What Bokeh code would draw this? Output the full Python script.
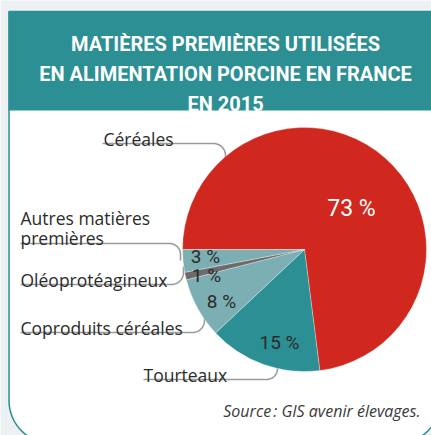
import numpy as np
from bokeh.plotting import figure
from bokeh.models import Range1d, ColumnDataSource
from bokeh.core.properties import value
from bokeh.embed import file_html
from bokeh.resources import INLINE

# ---------------- data ----------------
categories = ["Céréales", "Tourteaux", "Coproduits céréales",
              "Oléoprotéagineux", "Autres matières premières"]
shares = [73, 15, 8, 1, 3]
slice_colors = ["#d0281f", "#2b8f93", "#7bafb3", "#6e696a", "#7bafb3"]
title_lines = ["MATIÈRES PREMIÈRES UTILISÉES",
               "EN ALIMENTATION PORCINE EN FRANCE",
               "EN 2015"]
source_text = "Source\u202f: GIS avenir élevages."

# ---------------- layout (pixels, y measured from top) ----------------
W, H = 431, 435
TEAL = "#2b8f93"
BG = "#edf1f4"
TXT = "#2b2b2b"
LEAD = "#9b9b9b"
PIE_CX, PIE_CY, PIE_R = 304, 249, 122

def Y(yp):
    return H - np.asarray(yp, dtype=float)

p = figure(width=W, height=H, x_range=Range1d(0, W), y_range=Range1d(0, H),
           x_axis_type=None, y_axis_type=None, toolbar_location=None,
           output_backend="svg", min_border=0,
           background_fill_color=BG, border_fill_color=BG,
           outline_line_color=None)
p.grid.visible = False

def arc_pts(cx, cy, r, a0, a1, n=24):
    a = np.radians(np.linspace(a0, a1, n))
    return cx + r * np.cos(a), cy + r * np.sin(a)

# panel
L, Rt, T, B, rad = 8.5, 440.0, 11.0, 443.0, 43.0
xs, ys = [L], [T]
ax, ay = arc_pts(L + rad, B - rad, rad, 180, 90)
xs += list(ax); ys += list(ay)
ax, ay = arc_pts(Rt - rad, B - rad, rad, 90, 0)
xs += list(ax); ys += list(ay)
xs += [Rt]; ys += [T]
p.patch(xs, list(Y(ys)), fill_color="white", line_color=TEAL, line_width=1.5)

# header band
p.quad(left=[8], right=[440], top=list(Y([11])), bottom=list(Y([110])),
       fill_color=TEAL, line_color=None)

# leader lines: (x_start, y_line, x_corner, radius, direction, y_end)
leaders = [
    (102, 143, 213, 12, +1, 162),
    (20, 243, 169, 11, +1, 260),
    (20, 284, 171, 12, -1, 266),
    (20, 332, 192, 12, -1, 314),
    (143, 379, 266, 11, -1, 360),
]
lx, ly = [], []
for x0, yl, xc, r, d, yend in leaders:
    if d > 0:
        axp, ayp = arc_pts(xc, yl + r, r, 270, 360)
    else:
        axp, ayp = arc_pts(xc, yl - r, r, 90, 0)
    px = [x0] + list(axp) + [xc + r]
    py = [yl] + list(ayp) + [yend]
    lx.append(px); ly.append(list(Y(py)))
p.multi_line(lx, ly, line_color=LEAD, line_width=1.6)

# pie (clockwise from 9 o'clock)
frac = np.array(shares, dtype=float) / sum(shares)
cum = np.cumsum(frac)
prev = np.concatenate([[0.0], cum[:-1]])
src = ColumnDataSource(dict(
    start=np.pi - 2 * np.pi * cum,
    end=np.pi - 2 * np.pi * prev,
    color=slice_colors,
    cat=categories,
))
p.wedge(x=PIE_CX, y=float(Y(PIE_CY)), radius=PIE_R,
        start_angle="start", end_angle="end", source=src,
        fill_color="color", line_color="white", line_width=0.6, line_alpha=0.5)

# percentage labels
pct_pos = [(351, 208), (279, 342), (221, 301), (206, 275), (205, 256)]
pct_size = ["23px", "19px", "19px", "19px", "19px"]
pct_color = ["white", TXT, TXT, TXT, TXT]
p.text(x=[q[0] for q in pct_pos], y=list(Y([q[1] for q in pct_pos])),
       text=[f"{s} %" for s in shares], text_color=pct_color,
       text_font=value("Roboto"), text_font_size=pct_size,
       text_align="center", text_baseline="middle")

# category labels (lines, x, baselines)
cat_lines = [
    (["Céréales"], 103, [138]),
    (["Tourteaux"], 143, [374]),
    (["Coproduits céréales"], 20, [327]),
    (["Oléoprotéagineux"], 20, [279]),
    (["Autres matières", "premières"], 20, [217, 237]),
]
tx, ty, tt = [], [], []
for lines, x0, bls in cat_lines:
    for s, b in zip(lines, bls):
        tx.append(x0); ty.append(float(Y(b))); tt.append(s)
p.text(x=tx, y=ty, text=tt, text_color=TXT, text_font=value("Open Sans"),
       text_font_size="17.5px", text_align="left", text_baseline="alphabetic")

# title
p.text(x=[225] * 3, y=list(Y([43, 73, 103])), text=title_lines,
       text_color="white", text_font=value("Roboto"),
       text_font_style="bold", text_font_size="20px",
       text_align="center", text_baseline="alphabetic")

# source
p.text(x=[420], y=list(Y([410.5])), text=[source_text], text_color="#3a3a3a",
       text_font=value("Open Sans"), text_font_style="italic",
       text_font_size="16px", text_align="right", text_baseline="alphabetic")

open("out.html", "w").write(file_html(p, INLINE))
